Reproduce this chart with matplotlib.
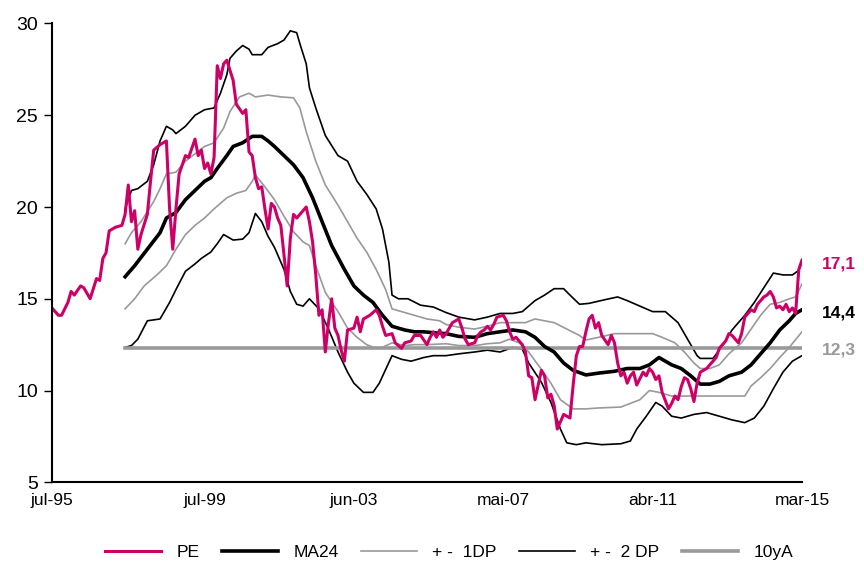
import numpy as np
import matplotlib.pyplot as plt

# PE mensuel (index de mois depuis jul-95)
pe_m = [0, 2, 3, 5, 6, 7, 9, 10, 12, 14, 15, 16, 17, 18, 20, 22, 23, 24, 25, 26, 27, 28, 30, 31, 32, 34, 36, 37, 38, 39,
        40, 42, 43, 44, 45, 46, 47, 48, 49, 50, 51, 52, 53, 54, 55, 57, 58, 60, 61, 62, 63, 64, 65, 66, 67, 68, 69, 70,
        71, 72, 73, 74, 75, 76, 77, 78, 80, 81, 82, 83, 84, 85, 86, 87, 88, 89, 90, 91, 92, 93, 95, 96, 97, 98, 100,
        102, 103, 104, 105, 107, 108, 110, 111, 113, 114, 116, 118, 119, 120, 121, 122, 123, 124, 125, 126, 128, 129,
        130, 131, 133, 134, 135, 136, 137, 138, 139, 140, 142, 143, 144, 145, 146, 147, 148, 149, 150, 151, 152, 154,
        155, 156, 157, 158, 159, 160, 161, 163, 164, 165, 166, 167, 168, 169, 170, 171, 172, 173, 175, 176, 177, 178,
        179, 180, 181, 182, 183, 184, 186, 187, 188, 189, 190, 191, 192, 194, 195, 196, 197, 198, 199, 200, 201, 202,
        203, 204, 206, 207, 209, 210, 212, 213, 214, 216, 217, 218, 220, 221, 222, 223, 224, 225, 226, 227, 228, 229,
        230, 231, 232, 233, 234, 235, 236]
pe_v = [14.5, 14.1, 14.1, 14.8, 15.4, 15.2, 15.7, 15.6, 15.0, 16.1, 16.0, 17.2, 17.5, 18.7, 18.9, 19.0, 19.6, 21.2,
        19.2, 19.8, 17.7, 18.5, 19.6, 21.4, 23.1, 23.4, 23.6, 19.9, 17.7, 19.9, 21.8, 22.8, 22.7, 23.2, 23.7, 22.8,
        23.1, 22.1, 22.4, 21.8, 22.7, 27.7, 27.0, 27.8, 28.0, 26.9, 25.6, 25.1, 25.3, 23.0, 22.8, 21.6, 21.0, 21.1,
        19.9, 18.8, 20.2, 20.0, 19.4, 19.0, 17.4, 15.7, 18.3, 19.6, 19.4, 19.6, 20.0, 19.2, 18.1, 16.3, 14.1, 14.4,
        12.1, 13.7, 15.0, 13.4, 13.0, 12.2, 11.6, 13.3, 13.4, 14.0, 13.2, 13.9, 14.1, 14.4, 14.1, 13.5, 13.0, 13.1,
        12.6, 12.3, 12.6, 12.7, 13.0, 13.0, 12.5, 12.9, 13.2, 12.9, 13.3, 12.9, 13.1, 13.4, 13.7, 13.9, 13.4, 12.8,
        12.5, 12.6, 13.0, 13.2, 13.3, 13.5, 13.3, 13.6, 14.0, 14.1, 13.8, 13.2, 12.8, 12.9, 12.7, 12.5, 12.1, 10.8,
        10.7, 9.5, 11.1, 10.8, 9.6, 9.8, 9.2, 7.9, 8.3, 8.7, 8.5, 10.3, 11.9, 12.4, 12.4, 13.2, 13.9, 14.1, 13.4,
        13.7, 13.0, 12.5, 13.0, 12.6, 11.5, 10.8, 11.0, 10.4, 10.8, 11.0, 10.3, 11.0, 10.8, 11.2, 11.0, 10.6, 10.8,
        9.9, 9.0, 9.3, 9.7, 9.5, 10.2, 10.7, 10.6, 10.1, 9.4, 10.4, 11.0, 11.2, 11.4, 11.8, 12.3, 12.7, 13.1, 13.0,
        12.6, 13.1, 14.0, 14.4, 14.3, 14.7, 14.9, 15.1, 15.2, 15.4, 15.1, 14.5, 14.6, 14.4, 14.7, 14.3, 14.5, 14.2,
        16.6, 17.1]

# Moyenne mobile 24 mois
ma_m = [23, 26, 30, 34, 36, 39, 42, 45, 48, 50, 52, 55, 57, 60, 63, 66, 68, 70, 73, 76, 79, 82, 85, 88, 92, 95, 98,
        101, 104, 107, 111, 114, 117, 120, 124, 128, 133, 137, 141, 145, 149, 152, 155, 158, 161, 164, 168, 172, 177,
        181, 185, 188, 191, 195, 198, 201, 204, 207, 210, 213, 217, 220, 223, 226, 229, 232, 234, 236]
ma_v = [16.2, 16.8, 17.7, 18.6, 19.4, 19.7, 20.4, 20.9, 21.4, 21.6, 22.1, 22.8, 23.3, 23.5, 23.85, 23.85, 23.6, 23.3,
        22.8, 22.3, 21.6, 20.5, 19.2, 17.9, 16.6, 15.7, 15.2, 14.8, 14.1, 13.5, 13.3, 13.2, 13.2, 13.15, 13.1, 12.95,
        12.9, 13.1, 13.2, 13.3, 13.2, 12.9, 12.4, 12.1, 11.5, 11.1, 10.85, 10.95, 11.05, 11.2, 11.2, 11.4, 11.8, 11.4,
        11.2, 10.8, 10.35, 10.35, 10.5, 10.8, 11.0, 11.4, 12.0, 12.6, 13.3, 13.8, 14.2, 14.4]

# +1 DP
up1_m = [23, 25, 28, 32, 34, 36, 39, 42, 45, 48, 51, 54, 56, 59, 62, 64, 68, 72, 76, 78, 80, 83, 86, 90, 93, 96, 99,
         102, 105, 107, 110, 114, 118, 122, 124, 128, 133, 137, 141, 149, 152, 158, 162, 166, 168, 172, 177, 189, 192,
         196, 199, 202, 204, 207, 210, 213, 217, 220, 223, 226, 229, 232, 234, 236]
up1_v = [18.0, 18.6, 19.2, 20.3, 21.0, 21.8, 21.9, 22.5, 22.9, 23.3, 23.5, 24.3, 25.2, 26.0, 26.2, 26.0, 26.1, 26.0,
         25.95, 25.4, 24.1, 22.5, 21.2, 20.1, 19.2, 18.3, 17.55, 16.6, 15.5, 14.45, 14.3, 14.1, 13.9, 13.8, 13.6, 13.45,
         13.35, 13.5, 13.7, 13.7, 13.9, 13.7, 13.35, 13.0, 12.75, 12.9, 13.1, 13.1, 12.9, 12.6, 12.1, 11.5, 11.2, 11.2,
         11.4, 12.0, 12.6, 13.35, 14.1, 14.7, 14.8, 15.0, 15.1, 15.8]

# -1 DP
lo1_m = [23, 26, 29, 33, 36, 39, 42, 45, 48, 51, 55, 58, 61, 63, 64, 67, 70, 73, 76, 79, 81, 83, 86, 90, 93, 96, 99,
         102, 104, 107, 111, 114, 118, 124, 128, 133, 137, 141, 144, 147, 150, 154, 157, 160, 164, 168, 172, 179, 182,
         185, 188, 191, 195, 218, 220, 223, 226, 229, 232, 236]
lo1_v = [14.45, 15.0, 15.7, 16.3, 16.8, 17.7, 18.5, 19.0, 19.4, 19.9, 20.5, 20.75, 20.9, 21.4, 21.75, 21.1, 20.4, 19.5,
         18.65, 18.1, 17.9, 16.8, 15.35, 14.3, 13.4, 12.9, 12.5, 12.3, 12.35, 12.6, 12.45, 12.5, 12.5, 12.55, 12.45,
         12.45, 12.55, 12.6, 12.8, 12.6, 12.1, 11.15, 10.4, 9.5, 9.0, 9.0, 9.05, 9.1, 9.3, 9.5, 10.0, 9.9, 9.7, 9.7,
         10.25, 10.7, 11.2, 11.8, 12.35, 13.2]

# +2 DP
up2_m = [23, 25, 27, 30, 32, 34, 36, 38, 39, 42, 45, 48, 51, 53, 55, 56, 58, 60, 62, 63, 66, 68, 71, 73, 75, 77, 78,
         80, 81, 83, 86, 90, 93, 96, 99, 102, 104, 106, 107, 109, 112, 116, 120, 124, 128, 133, 137, 141, 145, 148,
         152, 155, 158, 161, 163, 166, 169, 174, 178, 181, 185, 189, 193, 197, 200, 203, 204, 208, 211, 214, 218, 221,
         224, 227, 230, 233, 235, 236]
up2_v = [19.9, 20.9, 21.0, 21.4, 22.3, 23.6, 24.4, 24.2, 24.0, 24.4, 25.0, 25.3, 25.4, 26.2, 27.2, 28.1, 28.5, 28.8,
         28.6, 28.3, 28.3, 28.7, 28.9, 29.1, 29.6, 29.5, 28.9, 27.8, 26.5, 25.4, 23.9, 22.8, 22.5, 21.4, 20.7, 19.9,
         18.8, 17.0, 15.2, 15.0, 15.0, 14.65, 14.55, 14.25, 14.0, 13.85, 14.0, 14.2, 14.2, 14.3, 14.9, 15.2, 15.55,
         15.55, 15.2, 14.7, 14.75, 14.95, 15.1, 14.9, 14.6, 14.3, 14.3, 13.7, 12.8, 11.9, 11.75, 11.75, 12.45, 13.3,
         14.1, 14.8, 15.6, 16.4, 16.3, 16.3, 16.55, 17.0]

# -2 DP
lo2_m = [23, 25, 27, 30, 34, 37, 39, 42, 45, 47, 50, 52, 54, 57, 60, 62, 64, 66, 68, 70, 73, 75, 77, 79, 81, 84, 87,
         90, 93, 95, 98, 101, 103, 105, 107, 110, 113, 117, 120, 124, 128, 133, 137, 141, 145, 148, 150, 154, 157, 160,
         162, 165, 168, 173, 179, 182, 184, 187, 190, 192, 195, 198, 202, 206, 210, 214, 218, 221, 224, 227, 230, 233,
         236]
lo2_v = [12.35, 12.45, 12.8, 13.8, 13.9, 14.8, 15.5, 16.5, 16.9, 17.2, 17.55, 18.0, 18.5, 18.2, 18.25, 18.6, 19.65,
         19.2, 18.4, 17.8, 16.6, 15.4, 14.7, 14.6, 15.0, 14.45, 13.35, 12.1, 11.0, 10.4, 9.9, 9.9, 10.4, 11.15, 11.9,
         11.7, 11.6, 11.8, 11.9, 11.9, 12.0, 12.1, 12.2, 12.1, 12.35, 12.25, 11.5, 10.45, 9.35, 7.9, 7.15, 7.05, 7.15,
         7.05, 7.1, 7.25, 7.9, 8.6, 9.35, 9.15, 8.6, 8.5, 8.7, 8.8, 8.6, 8.4, 8.25, 8.5, 9.15, 10.1, 11.0, 11.6, 11.9]

# Moyenne 10 ans
avg10_m = [23, 236]
avg10_v = [12.3, 12.3]

tick_m = [0, 48, 95, 142, 189, 236]
tick_lab = ['jul-95', 'jul-99', 'jun-03', 'mai-07', 'abr-11', 'mar-15']

pink = '#CC0066'
grey = '#999999'

plt.rcParams['font.family'] = ['Liberation Sans', 'DejaVu Sans']

fig = plt.figure(figsize=(8.64, 5.73), dpi=100)
ax = fig.add_axes([0.0602, 0.1583, 0.868, 0.8007])

ax.plot(up2_m, up2_v, color='black', lw=1.2, label='+ -  2 DP')
ax.plot(lo2_m, lo2_v, color='black', lw=1.2)
ax.plot(up1_m, up1_v, color=grey, lw=1.2, label='+ -  1DP')
ax.plot(lo1_m, lo1_v, color=grey, lw=1.2)
ax.plot(avg10_m, avg10_v, color=grey, lw=2.6, label='10yA')
ax.plot(ma_m, ma_v, color='black', lw=2.6, label='MA24')
ax.plot(pe_m, pe_v, color=pink, lw=2.2, label='PE')

ax.set_xlim(0, 236)
ax.set_ylim(5, 30)
ax.set_yticks([5, 10, 15, 20, 25, 30])
ax.set_xticks(tick_m)
ax.set_xticklabels(tick_lab)
ax.tick_params(axis='y', labelsize=14, length=6, width=1, direction='out', pad=4)
ax.tick_params(axis='x', labelsize=12.5, length=0, pad=8)
for s in ['top', 'right']:
    ax.spines[s].set_visible(False)
for s in ['left', 'bottom']:
    ax.spines[s].set_linewidth(1.5)

# Étiquettes des dernières valeurs
ax.annotate('17,1', (pe_m[-1], pe_v[-1]), xytext=(14, -3), textcoords='offset points',
            color=pink, fontsize=12.5, fontweight='bold', va='center', annotation_clip=False)
ax.annotate('14,4', (ma_m[-1], ma_v[-1]), xytext=(14, -2), textcoords='offset points',
            color='black', fontsize=12.5, fontweight='bold', va='center', annotation_clip=False)
ax.annotate('12,3', (avg10_m[-1], avg10_v[-1]), xytext=(14, -1), textcoords='offset points',
            color=grey, fontsize=12.5, fontweight='bold', va='center', annotation_clip=False)

h, l = ax.get_legend_handles_labels()
order = [l.index(k) for k in ['PE', 'MA24', '+ -  1DP', '+ -  2 DP', '10yA']]
fig.legend([h[i] for i in order], [l[i] for i in order], loc='lower center', ncol=5, frameon=False,
           fontsize=12.5, handlelength=3.2, handletextpad=0.9, columnspacing=1.3,
           bbox_to_anchor=(0.52, -0.005))

fig.savefig('out.png', dpi=100)
